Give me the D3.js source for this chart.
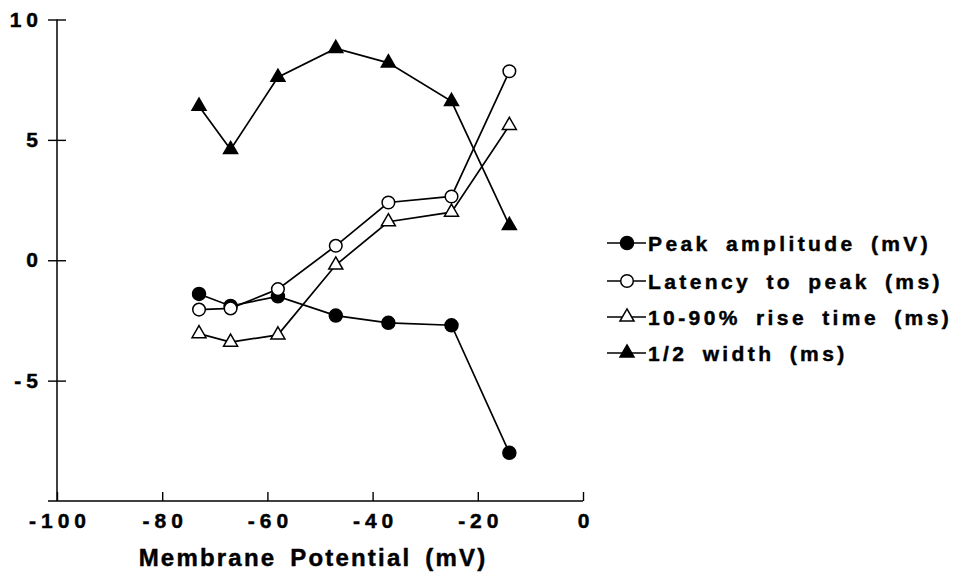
<!DOCTYPE html>
<html>
<head>
<meta charset="utf-8">
<script src="https://cdn.jsdelivr.net/npm/d3@7"></script>
<style>
  html, body { margin: 0; padding: 0; background: #fff; }
  svg text { font-family: "Liberation Sans", Arial, Helvetica, sans-serif; font-weight: bold; fill: #000; stroke: #000; stroke-width: 0.45px; }
</style>
</head>
<body>
<svg id="chart" width="956" height="581"></svg>
<script>
// Membrane potential (mV) at which each measurement was taken
const potentials = [-73, -67, -58, -47, -37, -25, -14];

// Measured series
const peakAmplitude = [-1.4, -1.9, -1.5, -2.3, -2.6, -2.7, -8.0];
const latencyToPeak = [-2.05, -2.0, -1.2, 0.6, 2.4, 2.65, 7.85];
const riseTime = [-3.05, -3.4, -3.1, -0.2, 1.6, 2.0, 5.6];
const halfWidth = [6.4, 4.6, 7.6, 8.8, 8.2, 6.6, 1.45];

const seriesNames = [
  "Peak amplitude (mV)",
  "Latency to peak (ms)",
  "10-90% rise time (ms)",
  "1/2 width (ms)"
];

const xTicks = [-100, -80, -60, -40, -20, 0];
const yTicks = [-5, 0, 5, 10];
const xTitle = "Membrane Potential (mV)";

const series = [
  { name: seriesNames[0], values: peakAmplitude, shape: "circle", filled: true },
  { name: seriesNames[1], values: latencyToPeak, shape: "circle", filled: false },
  { name: seriesNames[2], values: riseTime, shape: "triangle", filled: false },
  { name: seriesNames[3], values: halfWidth, shape: "triangle", filled: true }
];

const svg = d3.select("#chart");

const x = d3.scaleLinear().domain([-100, 0]).range([57, 583]);
const y = d3.scaleLinear().domain([-10, 10]).range([501, 19.5]);

// Plain hyphen for negative numbers
const fmt = d => String(d);

// X axis: ticks point upward into the plot
const xAxis = d3.axisBottom(x).tickValues(xTicks).tickSize(-9).tickSizeOuter(0).tickFormat(fmt);
const gx = svg.append("g").attr("transform", `translate(0,${y(-10)})`).call(xAxis);
gx.select(".domain").attr("d", `M${x(-100) - 9},0H${x(0)}`);
gx.selectAll(".tick line").attr("stroke-width", 1.4);
gx.selectAll(".tick text")
  .attr("y", 12).attr("dy", "0.71em").attr("dx", 2.5)
  .style("font-size", "21px").style("letter-spacing", "5px");

// Y axis: ticks cross the axis line
const yAxis = d3.axisLeft(y).tickValues(yTicks).tickSize(0).tickSizeOuter(0).tickFormat(fmt);
const gy = svg.append("g").attr("transform", `translate(${x(-100)},0)`).call(yAxis);
gy.select(".domain").attr("d", `M0,${y(10)}V${y(-10)}`);
gy.selectAll(".tick").append("line").attr("x1", -9).attr("x2", 9).attr("stroke", "#000").attr("stroke-width", 1.4);
gy.selectAll(".tick text")
  .attr("x", -14)
  .style("font-size", "21px").style("letter-spacing", "5px");
svg.selectAll(".domain").attr("stroke", "#000").attr("stroke-width", 1.5);
svg.selectAll(".tick line").attr("stroke", "#000");
svg.selectAll(".tick text").attr("fill", "#000").attr("font-family", null);

// X axis title
svg.append("text")
  .attr("x", 313).attr("y", 566)
  .attr("text-anchor", "middle")
  .style("font-size", "24px").style("letter-spacing", "2.2px").style("word-spacing", "5px")
  .text(xTitle);

const line = d3.line().x((d, i) => x(potentials[i])).y(d => y(d));
const triangle = d3.symbol().type(d3.symbolTriangle).size(85);

function drawMarker(g, s, cx, cy) {
  if (s.shape === "circle") {
    g.append("circle").attr("cx", cx).attr("cy", cy).attr("r", s.filled ? 6.5 : 6.3)
      .attr("fill", s.filled ? "#000" : "#fff").attr("stroke", "#000").attr("stroke-width", 1.5);
  } else {
    g.append("path").attr("d", triangle()).attr("transform", `translate(${cx},${cy})`)
      .attr("fill", s.filled ? "#000" : "#fff").attr("stroke", "#000").attr("stroke-width", 1.5)
      .attr("stroke-linejoin", "miter");
  }
}

// Lines first, then markers on top
series.forEach(s => {
  svg.append("path").datum(s.values).attr("d", line)
    .attr("fill", "none").attr("stroke", "#000").attr("stroke-width", 1.7);
});
series.forEach(s => {
  const g = svg.append("g");
  s.values.forEach((v, i) => drawMarker(g, s, x(potentials[i]), y(v)));
});

// Legend
const legendRows = [243, 281, 317, 353];
series.forEach((s, i) => {
  const g = svg.append("g").attr("transform", `translate(0,${legendRows[i]})`);
  g.append("line").attr("x1", 607).attr("x2", 646).attr("y1", 0).attr("y2", 0)
    .attr("stroke", "#000").attr("stroke-width", 1.5);
  drawMarker(g, s, 627, 0);
  g.append("text").attr("x", 648).attr("y", 0).attr("dy", "0.36em")
    .style("font-size", "21px").style("letter-spacing", "3.4px").style("word-spacing", "6px")
    .text(s.name);
});
</script>
</body>
</html>
